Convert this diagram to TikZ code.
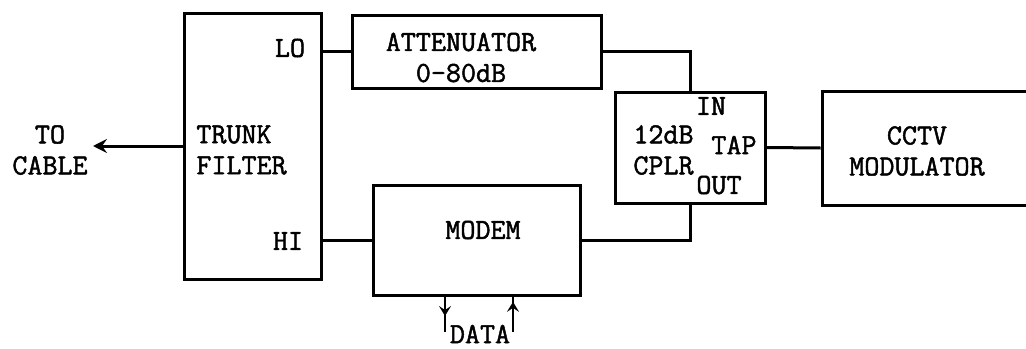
\documentclass[tikz,border=0pt]{standalone}
\usepackage{fontspec}
\newfontfamily\tyfont{Latin Modern Mono}[FakeBold=1.6]
\usepackage{tikz}
\usetikzlibrary{arrows.meta, positioning, decorations.markings}

\begin{document}
\begin{tikzpicture}[
    x=0.5pt, y=-0.5pt,
    block/.style={rectangle, draw, line width=1.5pt, inner sep=0pt},
    lbl/.style={inner sep=0pt, align=center, font=\tyfont\fontsize{14.6}{15.5}\selectfont},
    wire/.style={line width=1.5pt},
    arrow/.style={-{Stealth[length=7pt, width=7pt, inset=2.5pt]}, line width=1.5pt},
    midarrow/.style={line width=1.3pt, postaction={decorate},
        decoration={markings, mark=at position #1 with {\arrow{Stealth[length=5pt, width=6pt, inset=2pt]}}}}
]
\useasboundingbox (0,0) rectangle (1026,348);
\clip (0,0) rectangle (1026,348);

\node[block, minimum width=68.5pt, minimum height=133pt] (trunk) at (252.5,146) {};
\node[block, minimum width=124.5pt, minimum height=36.5pt] (atten) at (476.5,51.5) {};
\node[block, minimum width=103.5pt, minimum height=55pt] (modem) at (476.5,240) {};
\node[block, minimum width=75pt, minimum height=55.5pt] (cplr) at (690,147.5) {};
\node[block, minimum width=109pt, minimum height=57pt] (cctv) at (931,148) {};

\node[lbl] (tocabletxt) at (50,150) {TO\\CABLE};
\node[lbl, align=left, anchor=west] (trunktxt) at (196,150) {TRUNK\\FILTER};
\node[lbl] (lo) at (290,48) {LO};
\node[lbl] (hi) at (288,241) {HI};
\node[lbl] (attentxt) at (461,57.5) {ATTENUATOR\\0-80dB};
\node[lbl] (modemtxt) at (483,230) {MODEM};
\node[lbl, align=left, anchor=west] (cplrtxt) at (633,150) {12dB\\CPLR};
\node[lbl] (in) at (711,106) {IN};
\node[lbl] (tap) at (734,145) {TAP};
\node[lbl] (out) at (719,185) {OUT};
\node[lbl] (cctvtxt) at (917,151) {CCTV\\MODULATOR};
\node[lbl] (data) at (480,334) {DATA};

\coordinate (tocable) at (93,146);
\coordinate (datain) at (445,332);
\coordinate (dataout) at (513,332);

\draw[arrow] (trunk.west) -- (tocable);
\draw[wire] (atten.west -| trunk.east) -- (atten.west);
\draw[wire] (modem.west -| trunk.east) -- (modem.west);
\draw[wire] (atten.east) -| (cplr.north);
\draw[wire] (modem.east) -| (cplr.south);
\draw[wire] (cplr.east) -- (cctv.west);
\draw[midarrow=0.55] (modem.south -| datain) -- (datain);
\draw[midarrow=0.85] (dataout) -- (modem.south -| dataout);
\end{tikzpicture}
\end{document}
